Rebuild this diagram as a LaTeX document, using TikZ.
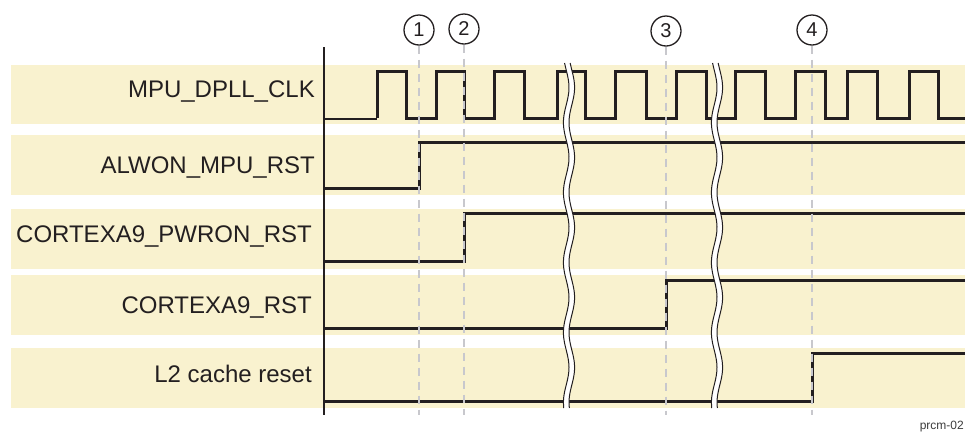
\documentclass[tikz,border=0pt]{standalone}
\usepackage{fontspec}
\setmainfont{Liberation Sans}
\definecolor{bandc}{RGB}{249,242,207}
\definecolor{sigc}{RGB}{35,31,32}
\definecolor{markc}{RGB}{200,200,205}
\definecolor{tagc}{RGB}{60,60,60}
\begin{document}
\begin{tikzpicture}[x=1pt,y=-1pt,
 sig/.style={draw=sigc, line width=3pt, line join=miter},
 marker/.style={draw=markc, line width=1.6pt, dash pattern=on 8pt off 6pt},
 lbl/.style={anchor=base east, font=\fontsize{24}{28}\selectfont, text=sigc, inner sep=0pt},
 num/.style={circle, draw=sigc, line width=1.3pt, minimum size=30pt, inner sep=0pt, font=\fontsize{20}{22}\selectfont, text=sigc},
 brk/.style={draw=sigc, line width=1pt}]
\useasboundingbox (0,0) rectangle (965,432);
% bands
\fill[bandc] (11,65) rectangle (965,124);
\fill[bandc] (11,135) rectangle (965,195);
\fill[bandc] (11,209) rectangle (965,269);
\fill[bandc] (11,275) rectangle (965,335);
\fill[bandc] (11,348) rectangle (965,408);
% labels
\node[lbl] (l1) at (315,97) {MPU\_DPLL\_CLK};
\node[lbl] (l2) at (315,173) {ALWON\_MPU\_RST};
\node[lbl] (l3) at (312,242) {CORTEXA9\_PWRON\_RST};
\node[lbl] (l4) at (312,313) {CORTEXA9\_RST};
\node[lbl] (l5) at (312,382) {L2 cache reset};
% axis
\coordinate (axt) at (324,47);
\coordinate (axb) at (324,415);
\draw[sigc, line width=1.6pt] (axt) -- (axb);
% clock
\draw[sig, line width=1.8pt] (324,119) -- (377,119);
\draw[sig] (377,118) -- (377,71) -- (406,71) -- (406,118) -- (436,118) -- (436,71)
  -- (464,71) -- (464,118) -- (494,118) -- (494,71) -- (524,71) -- (524,118)
  -- (557,118) -- (557,71) -- (585,71) -- (585,118) -- (615,118) -- (615,71)
  -- (646,71) -- (646,118) -- (676,118) -- (676,71) -- (706,71) -- (706,118)
  -- (735,118) -- (735,71) -- (765,71) -- (765,118) -- (795,118) -- (795,71)
  -- (825,71) -- (825,118) -- (847,118) -- (847,71) -- (877,71) -- (877,118)
  -- (909,118) -- (909,71) -- (938,71) -- (938,118) -- (965,118);
% resets
\draw[sig] (324,188) -- (419,188) -- (419,142) -- (965,142);
\draw[sig] (324,261) -- (464,261) -- (464,213) -- (965,213);
\draw[sig] (324,328) -- (666,328) -- (666,280) -- (965,280);
\draw[sig] (324,401) -- (812,401) -- (812,353) -- (965,353);
% breaks
\foreach \bx in {569,717} {
  \fill[white] plot[domain=63:408,samples=60,smooth] ({\bx-2.8+2.8*sin(\x/70*360)},\x)
     -- plot[domain=408:63,samples=60,smooth] ({\bx+2.8+2.8*sin(\x/70*360)},\x) -- cycle;
  \draw[brk] plot[domain=63:408,samples=60,smooth] ({\bx-2.8+2.8*sin(\x/70*360)},\x);
  \draw[brk] plot[domain=63:408,samples=60,smooth] ({\bx+2.8+2.8*sin(\x/70*360)},\x);
}
% markers
\node[num] (c1) at (419,30) {1};
\node[num] (c2) at (464,29) {2};
\node[num] (c3) at (666,31) {3};
\node[num] (c4) at (812,30) {4};
\coordinate (e1) at (419,415);
\coordinate (e2) at (464,415);
\coordinate (e3) at (666,415);
\coordinate (e4) at (812,415);
\draw[marker] (c1.south) -- (e1);
\draw[marker] (c2.south) -- (e2);
\draw[marker] (c3.south) -- (e3);
\draw[marker] (c4.south) -- (e4);
% tag
\node[anchor=base east, font=\fontsize{12}{14}\selectfont, text=tagc, inner sep=0pt] (tag) at (964,429) {prcm-02};
\end{tikzpicture}
\end{document}
